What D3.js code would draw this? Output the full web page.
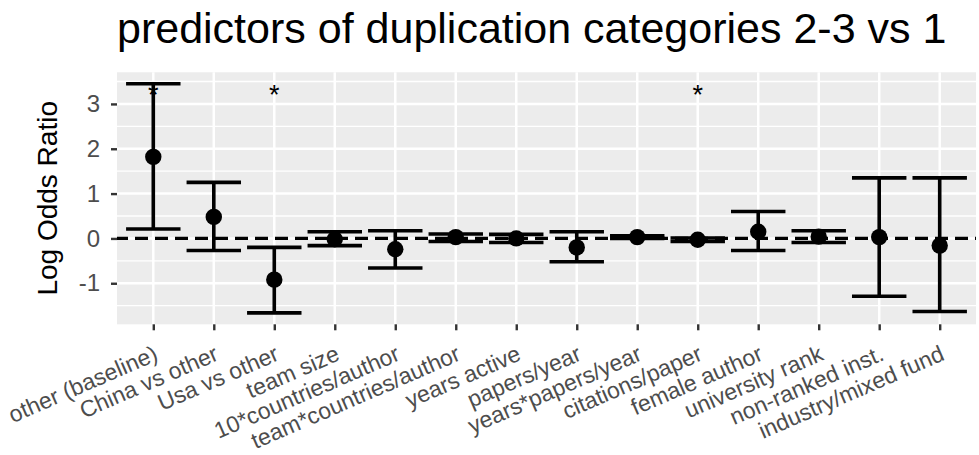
<!DOCTYPE html>
<html>
<head>
<meta charset="utf-8">
<script src="https://cdn.jsdelivr.net/npm/d3@7"></script>
<style>
  html, body { margin: 0; padding: 0; background: #ffffff; }
  svg { display: block; }
  text { font-family: "Liberation Sans", Arial, Helvetica, sans-serif; }
</style>
</head>
<body>
<svg id="chart" width="979" height="455"></svg>
<script>
// ---- data ----
const categories = [
  "other (baseline)", "China vs other", "Usa vs other", "team size",
  "10*countries/author", "team*countries/author", "years active", "papers/year",
  "years*papers/year", "citations/paper", "female author", "university rank",
  "non-ranked inst.", "industry/mixed fund"
];
const estimates = [1.82, 0.48, -0.92, -0.02, -0.24, 0.03, 0.00, -0.20, 0.03, -0.03, 0.15, 0.04, 0.03, -0.16];
const lowerCI   = [0.21, -0.27, -1.66, -0.16, -0.66, -0.07, -0.09, -0.52, 0.00, -0.07, -0.27, -0.09, -1.29, -1.63];
const upperCI   = [3.45, 1.25, -0.20, 0.15, 0.17, 0.10, 0.09, 0.15, 0.06, 0.01, 0.60, 0.17, 1.35, 1.35];
const significant = ["other (baseline)", "Usa vs other", "citations/paper"];
const starLevel = 3.34;
const yTicks = [-1, 0, 1, 2, 3];
const yMinorTicks = [-1.5, -0.5, 0.5, 1.5, 2.5, 3.5];
const titleText = "predictors of duplication categories 2-3 vs 1";
const yTitle = "Log Odds Ratio";

// ---- layout ----
const svg = d3.select("#chart");
const panel = { left: 117, right: 976, top: 72.3, bottom: 324.3 };

const rows = categories.map((c, i) => ({ cat: c, est: estimates[i], lo: lowerCI[i], hi: upperCI[i] }));

const yMin = d3.min(lowerCI), yMax = d3.max(upperCI);
const pad = (yMax - yMin) * 0.05;
const y = d3.scaleLinear().domain([yMin - pad, yMax + pad]).range([panel.bottom, panel.top]);
const x = d3.scalePoint().domain(categories).range([panel.left, panel.right]).padding(0.6);
const step = x.step();

// panel background
svg.append("rect")
  .attr("x", panel.left).attr("y", panel.top)
  .attr("width", panel.right - panel.left).attr("height", panel.bottom - panel.top)
  .attr("fill", "#ececec");

// minor gridlines
svg.append("g").selectAll("line").data(yMinorTicks).join("line")
  .attr("x1", panel.left).attr("x2", panel.right)
  .attr("y1", d => y(d)).attr("y2", d => y(d))
  .attr("stroke", "#ffffff").attr("stroke-width", 1.3);

// major gridlines
svg.append("g").selectAll("line").data(yTicks).join("line")
  .attr("x1", panel.left).attr("x2", panel.right)
  .attr("y1", d => y(d)).attr("y2", d => y(d))
  .attr("stroke", "#ffffff").attr("stroke-width", 2.5);
svg.append("g").selectAll("line").data(categories).join("line")
  .attr("x1", d => x(d)).attr("x2", d => x(d))
  .attr("y1", panel.top).attr("y2", panel.bottom)
  .attr("stroke", "#ffffff").attr("stroke-width", 2.5);

// dashed zero line
svg.append("line")
  .attr("x1", panel.left).attr("x2", panel.right)
  .attr("y1", y(0)).attr("y2", y(0))
  .attr("stroke", "#000").attr("stroke-width", 3.2)
  .attr("stroke-dasharray", "13,7").attr("stroke-dashoffset", 2);

// error bars
const eb = svg.append("g").attr("stroke", "#000").attr("stroke-width", 3.6);
const half = step * 0.45;
eb.selectAll("line.v").data(rows).join("line").attr("class", "v")
  .attr("x1", d => x(d.cat)).attr("x2", d => x(d.cat))
  .attr("y1", d => y(d.lo)).attr("y2", d => y(d.hi));
eb.selectAll("line.top").data(rows).join("line").attr("class", "top")
  .attr("x1", d => x(d.cat) - half).attr("x2", d => x(d.cat) + half)
  .attr("y1", d => y(d.hi)).attr("y2", d => y(d.hi));
eb.selectAll("line.bot").data(rows).join("line").attr("class", "bot")
  .attr("x1", d => x(d.cat) - half).attr("x2", d => x(d.cat) + half)
  .attr("y1", d => y(d.lo)).attr("y2", d => y(d.lo));

// points
svg.append("g").selectAll("circle").data(rows).join("circle")
  .attr("cx", d => x(d.cat)).attr("cy", d => y(d.est))
  .attr("r", 8.2).attr("fill", "#000");

// significance stars
svg.append("g").selectAll("text").data(significant).join("text")
  .attr("x", d => x(d)).attr("y", y(starLevel))
  .attr("dy", "0.58em")
  .attr("text-anchor", "middle")
  .attr("font-size", 27).attr("fill", "#000")
  .text("*");

// y axis ticks + labels
const yAxis = d3.axisLeft(y).tickValues(yTicks).tickSize(6).tickPadding(11)
  .tickFormat(d3.format("d"));
const gy = svg.append("g").attr("transform", `translate(${panel.left},0)`).call(yAxis);
gy.select(".domain").remove();
gy.selectAll(".tick line").attr("stroke", "#333333").attr("stroke-width", 2.4);
gy.selectAll(".tick text")
  .attr("font-size", 24).attr("fill", "#4d4d4d")
  .attr("font-family", "Liberation Sans, Arial, sans-serif")
  .text(d => d < 0 ? "-" + Math.abs(d) : String(d));

// x axis ticks + labels
const xAxis = d3.axisBottom(x).tickSize(6).tickPadding(0);
const gx = svg.append("g").attr("transform", `translate(0,${panel.bottom})`).call(xAxis);
gx.select(".domain").remove();
gx.selectAll(".tick line").attr("stroke", "#333333").attr("stroke-width", 2.4);
gx.selectAll(".tick text")
  .attr("font-size", 23).attr("fill", "#4d4d4d")
  .attr("font-family", "Liberation Sans, Arial, sans-serif")
  .attr("text-anchor", "end")
  .attr("y", 0).attr("dy", "0.72em")
  .attr("transform", "translate(-1,20) rotate(-23.5)");

// axis title
svg.append("text")
  .attr("transform", `translate(56.5,${(panel.top + panel.bottom) / 2}) rotate(-90)`)
  .attr("text-anchor", "middle")
  .attr("font-size", 28).attr("fill", "#000")
  .text(yTitle);

// plot title
svg.append("text")
  .attr("x", 117).attr("y", 43)
  .attr("font-size", 43).attr("fill", "#000")
  .text(titleText);
</script>
</body>
</html>
